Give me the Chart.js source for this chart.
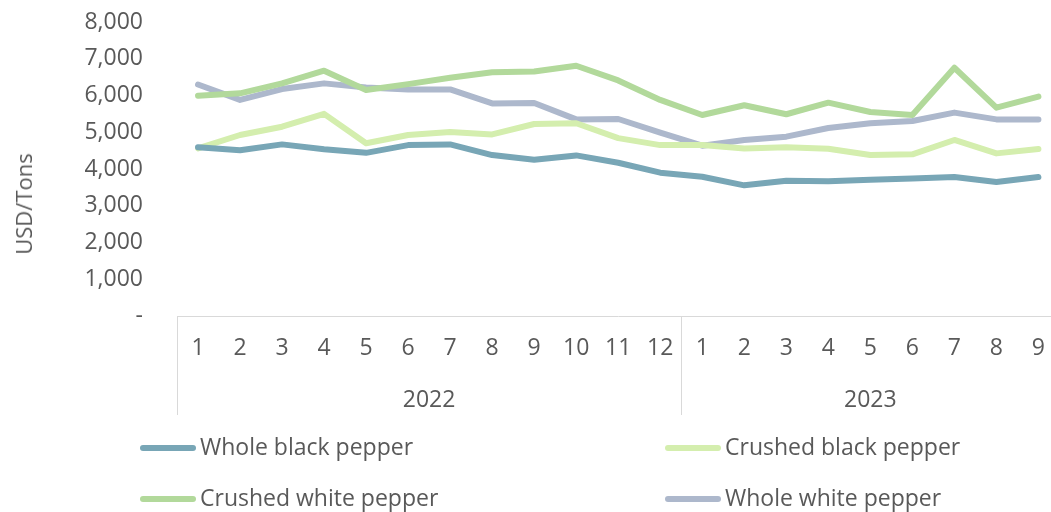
<!DOCTYPE html>
<html>
<head>
<meta charset="utf-8">
<script src="https://cdn.jsdelivr.net/npm/chart.js@4"></script>
<style>
	html, body { margin: 0; padding: 0; background: #fff; overflow: hidden; }
	#wrap { position: relative; width: 1064px; height: 512px; }
	#yTitle {
		position: absolute; left: 23px; top: 204px;
		transform: translate(-50%, -50%) rotate(-90deg);
		font: 22px "Open Sans"; color: #595959; white-space: nowrap;
	}
	.leg { position: absolute; font: 23px "Open Sans"; color: #595959; white-space: nowrap; line-height: 30px; }
	.leg span.sw { display: inline-block; width: 56px; height: 6px; border-radius: 3px; vertical-align: middle; margin-right: 4px; position: relative; top: -1px; }
</style>
</head>
<body>
<div id="wrap">
	<canvas id="pepperChart"></canvas>
	<div id="yTitle">USD/Tons</div>
	<div id="legend"></div>
</div>
<script>
const years = ['2022', '2023'];
const monthsPerYear = [12, 9];
const months = ['1','2','3','4','5','6','7','8','9','10','11','12','1','2','3','4','5','6','7','8','9'];
const seriesNames = ['Whole black pepper', 'Crushed black pepper', 'Crushed white pepper', 'Whole white pepper'];
const seriesColors = ['#78A6B6', '#D4EEAE', '#B2D99B', '#ADB8CC'];

const wholeBlack = [4590, 4510, 4670, 4540, 4440, 4650, 4670, 4380, 4250, 4370, 4170, 3900, 3790, 3555, 3680, 3670, 3710, 3740, 3780, 3645, 3780];
const crushedBlack = [4560, 4925, 5150, 5500, 4700, 4925, 5005, 4940, 5225, 5245, 4840, 4650, 4650, 4560, 4590, 4550, 4380, 4400, 4790, 4425, 4545];
const crushedWhite = [5995, 6060, 6330, 6675, 6150, 6310, 6485, 6630, 6655, 6810, 6410, 5880, 5470, 5735, 5490, 5805, 5550, 5470, 6755, 5670, 5970];
const wholeWhite = [6300, 5880, 6175, 6330, 6220, 6160, 6165, 5785, 5795, 5350, 5360, 4990, 4635, 4790, 4880, 5115, 5245, 5305, 5535, 5350, 5350];

const seriesValues = [wholeBlack, crushedBlack, crushedWhite, wholeWhite];

// year centres and boundaries in category index units
const yearCentres = [];
const yearEdges = [-0.5];
let start = 0;
monthsPerYear.forEach(n => {
	yearCentres.push(start + (n - 1) / 2);
	start += n;
	yearEdges.push(start - 0.5);
});

const yearBoxes = {
	id: 'yearBoxes',
	afterDraw(chart) {
		const ctx = chart.ctx;
		const x2 = chart.scales.x2;
		ctx.save();
		ctx.strokeStyle = '#D9D9D9';
		ctx.lineWidth = 1;
		yearEdges.forEach(v => {
			const px = Math.round(x2.getPixelForValue(v)) + 0.5;
			ctx.beginPath();
			ctx.moveTo(px, chart.chartArea.bottom);
			ctx.lineTo(px, x2.bottom);
			ctx.stroke();
		});
		ctx.restore();
	}
};

Chart.defaults.font.family = '"Open Sans"';
Chart.defaults.font.size = 23;
Chart.defaults.color = '#595959';

new Chart(document.getElementById('pepperChart'), {
	type: 'line',
	data: {
		labels: months,
		datasets: seriesNames.map((name, i) => ({
			label: name,
			data: seriesValues[i],
			borderColor: seriesColors[i],
			backgroundColor: seriesColors[i],
			borderWidth: 6,
			pointRadius: 0,
			tension: 0,
			borderCapStyle: 'round',
			borderJoinStyle: 'round'
		}))
	},
	options: {
		responsive: true,
		maintainAspectRatio: false,
		animation: false,
		layout: { autoPadding: false, padding: { top: 22, right: 0, bottom: 97, left: 0 } },
		plugins: { legend: { display: false }, tooltip: { enabled: false } },
		scales: {
			y: {
				min: 0,
				max: 8000,
				afterFit: s => { s.width = 177; },
				ticks: {
					stepSize: 1000,
					padding: 0,
					callback: v => v === 0 ? '-' : v.toLocaleString('en-US')
				},
				grid: { display: true, drawOnChartArea: false, drawTicks: true, tickLength: 34, tickColor: 'rgba(0,0,0,0)' },
				border: { display: false }
			},
			x: {
				offset: true,
				afterFit: s => { s.height = 52; },
				ticks: { autoSkip: false, maxRotation: 0, padding: 19 },
				grid: { display: false, drawTicks: false },
				border: { display: true, color: '#D9D9D9', width: 1 }
			},
			x2: {
				type: 'linear',
				position: 'bottom',
				min: -0.5,
				max: months.length - 0.5,
				afterFit: s => { s.height = 47; },
				afterBuildTicks: s => { s.ticks = yearCentres.map(v => ({ value: v })); },
				ticks: {
					padding: 19,
					maxRotation: 0,
					callback: (v, i) => years[i]
				},
				grid: { display: false, drawTicks: false },
				border: { display: false }
			}
		}
	},
	plugins: [yearBoxes]
});

// legend as html, two columns
const legendPos = [[140, 431], [665, 431], [140, 482], [665, 482]];
const legendEl = document.getElementById('legend');
seriesNames.forEach((name, i) => {
	const d = document.createElement('div');
	d.className = 'leg';
	d.style.left = legendPos[i][0] + 'px';
	d.style.top = legendPos[i][1] + 'px';
	d.innerHTML = '<span class="sw" style="background:' + seriesColors[i] + '"></span>' + name;
	legendEl.appendChild(d);
});
</script>
</body>
</html>
